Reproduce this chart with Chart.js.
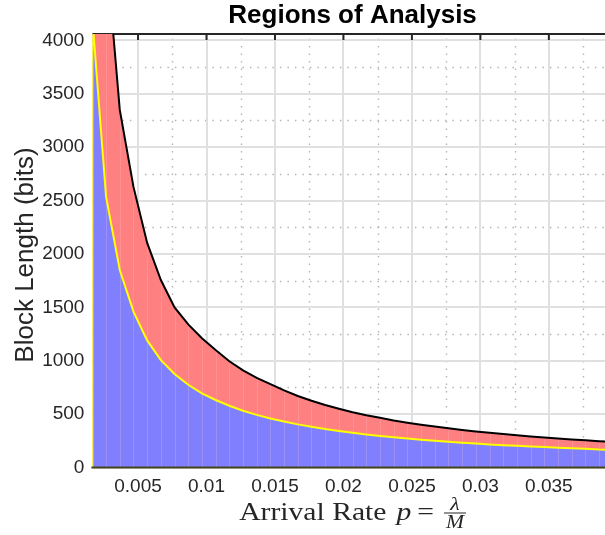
<!DOCTYPE html>
<html>
<head>
<meta charset="utf-8">
<script src="https://cdn.jsdelivr.net/npm/chart.js@4.4.1/dist/chart.umd.min.js"></script>
<style>
  html, body { margin: 0; padding: 0; background: #fff; }
  canvas { display: block; }
</style>
</head>
<body>
<canvas id="regions" width="605" height="535"></canvas>
<script>
/* ─── DATA ────────────────────────────────────────────────── */
// arrival rate p = lambda / M at each evaluated point
const arrivalRate = [
  0.0016667, 0.0026667, 0.0036667, 0.0046667, 0.0056667, 0.0066667, 0.0076667,
  0.0086667, 0.0096667, 0.0106667, 0.0116667, 0.0126667, 0.0136667, 0.0146667,
  0.0156667, 0.0166667, 0.0176667, 0.0186667, 0.0196667, 0.0206667, 0.0216667,
  0.0226667, 0.0236667, 0.0246667, 0.0256667, 0.0266667, 0.0276667, 0.0286667,
  0.0296667, 0.0306667, 0.0316667, 0.0326667, 0.0336667, 0.0346667, 0.0356667,
  0.0366667, 0.0376667, 0.0386667, 0.0396667,
];

// lower boundary (yellow) – block length in bits
const lowerBound = [
  4200, 2534, 1850, 1460, 1190, 1005, 875, 775, 695, 632, 578, 532, 493, 459,
  430, 404, 381, 360, 342, 325, 310, 296, 283, 271, 260, 250, 241, 232, 224,
  216, 209, 203, 197, 191, 185, 180, 175, 168, 164,
];

// upper boundary (black) – block length in bits
const upperBound = [
  7800, 4850, 3349, 2628, 2103, 1756, 1500, 1340, 1210, 1100, 995, 910, 840, 780,
  722, 670, 625, 585, 550, 518, 490, 465, 441, 420, 401, 383, 367, 352, 338,
  325, 313, 302, 291, 281, 272, 263, 255, 247, 240,
];

const xTicks      = [0.005, 0.01, 0.015, 0.02, 0.025, 0.03, 0.035];
const xMinorTicks = [0.0025, 0.0075, 0.0125, 0.0175, 0.0225, 0.0275, 0.0325, 0.0375];
const yTicks      = [0, 500, 1000, 1500, 2000, 2500, 3000, 3500, 4000];
const yMinorTicks = [250, 750, 1250, 1750, 2250, 2750, 3250, 3750];

const X_MAX = 0.0391;
const Y_MAX = 4060;

/* ─── STYLE ───────────────────────────────────────────────── */
const AXIS_COLOR = '#262626';
const SANS  = '"Liberation Sans", Arial, Helvetica, sans-serif';
const SERIF = '"Liberation Serif", "Times New Roman", serif';

/* ─── EXTRA DRAWING: minor grid, box, seams, labels ───────── */
const decorations = {
  id: 'decorations',

  beforeDraw(chart) {
    const { ctx, chartArea: a, scales: { x, y } } = chart;
    ctx.save();
    ctx.strokeStyle = '#b5b5b5';
    ctx.lineWidth = 1.4;
    ctx.setLineDash([1.5, 6]);
    xMinorTicks.forEach(v => {
      const px = Math.round(x.getPixelForValue(v)) + 0.5;
      ctx.beginPath(); ctx.moveTo(px, a.bottom); ctx.lineTo(px, a.top); ctx.stroke();
    });
    yMinorTicks.forEach(v => {
      const py = Math.round(y.getPixelForValue(v)) + 0.5;
      ctx.beginPath(); ctx.moveTo(a.left, py); ctx.lineTo(a.right, py); ctx.stroke();
    });
    ctx.restore();
  },

  beforeDatasetsDraw(chart) {
    // top box edge with inward tick marks (sits under the data)
    const { ctx, chartArea: a, scales: { x } } = chart;
    ctx.save();
    ctx.strokeStyle = AXIS_COLOR;
    ctx.lineWidth = 2;
    ctx.beginPath(); ctx.moveTo(a.left, a.top); ctx.lineTo(a.right, a.top); ctx.stroke();
    xTicks.forEach(v => {
      const px = x.getPixelForValue(v);
      ctx.beginPath(); ctx.moveTo(px, a.top); ctx.lineTo(px, a.top + 6); ctx.stroke();
    });
    ctx.restore();
  },

  beforeDatasetDraw(chart, args) {
    // faint seams between the filled patch segments
    const { ctx, chartArea: a, scales: { x, y } } = chart;
    const vals = args.index === 0 ? lowerBound : upperBound;
    ctx.save();
    ctx.beginPath();
    ctx.rect(a.left, a.top, a.right - a.left, a.bottom - a.top);
    ctx.clip();
    ctx.strokeStyle = 'rgba(255, 200, 210, 0.22)';
    ctx.lineWidth = 1;
    for (let i = 1; i < arrivalRate.length; i++) {
      const px = Math.round(x.getPixelForValue(arrivalRate[i])) + 0.5;
      ctx.beginPath();
      ctx.moveTo(px, y.getPixelForValue(0));
      ctx.lineTo(px, y.getPixelForValue(vals[i]));
      ctx.stroke();
    }
    ctx.restore();
  },

  afterDatasetsDraw(chart) {
    const { ctx, chartArea: a } = chart;
    ctx.save();
    ctx.strokeStyle = '#45451c';
    ctx.lineWidth = 2;
    ctx.beginPath(); ctx.moveTo(a.left - 1, a.bottom); ctx.lineTo(a.right, a.bottom); ctx.stroke();
    ctx.restore();
  },

  afterDraw(chart) {
    const { ctx, scales: { x } } = chart;
    const cx = x.getPixelForValue((arrivalRate[0] + arrivalRate[arrivalRate.length - 1]) / 2);

    ctx.save();
    // title
    ctx.fillStyle = '#000';
    ctx.font = 'bold 26px ' + SANS;
    ctx.textAlign = 'center';
    ctx.textBaseline = 'alphabetic';
    ctx.fillText('Regions of Analysis', cx, 23);

    // y-axis label
    ctx.fillStyle = AXIS_COLOR;
    ctx.save();
    ctx.translate(33, 255);
    ctx.rotate(-Math.PI / 2);
    ctx.font = '26px ' + SANS;
    ctx.fillText('Block Length (bits)', 0, 0);
    ctx.restore();

    drawXLabel(ctx, cx, 520);
    ctx.restore();
  },
};

// "Arrival Rate p = λ/M" with a stacked fraction
function drawXLabel(ctx, cx, base) {
  const sx = 1.14;
  const mainFont = '26px ' + SERIF;
  const italFont = 'italic 26px ' + SERIF;
  const fracFont = 'italic 19px ' + SERIF;

  ctx.font = mainFont;
  const wA  = ctx.measureText('Arrival Rate').width * sx;
  const wEq = ctx.measureText('=').width * sx;
  ctx.font = italFont;
  const wP  = ctx.measureText('p').width * sx;
  ctx.font = fracFont;
  const wLam = ctx.measureText('λ').width * sx;
  const wM   = ctx.measureText('M').width * sx;
  const wFr  = Math.max(wLam, wM) + 4;

  const gapA = 10, gapP = 6, gapEq = 10;
  const total = wA + gapA + wP + gapP + wEq + gapEq + wFr;
  let px = cx - total / 2;

  const put = (txt, font, x0, y0, align) => {
    ctx.save();
    ctx.font = font;
    ctx.textAlign = align || 'left';
    ctx.textBaseline = 'alphabetic';
    ctx.translate(x0, y0);
    ctx.scale(sx, 1);
    ctx.fillText(txt, 0, 0);
    ctx.restore();
  };

  ctx.fillStyle = AXIS_COLOR;
  put('Arrival Rate', mainFont, px, base);
  px += wA + gapA;
  put('p', italFont, px, base);
  px += wP + gapP;
  put('=', mainFont, px, base);
  px += wEq + gapEq;

  const fc = px + wFr / 2;
  put('λ', fracFont, fc, base - 10, 'center');
  put('M', fracFont, fc, base + 8, 'center');
  ctx.fillRect(px, base - 7.5, wFr, 1);
}

/* ─── CHART ───────────────────────────────────────────────── */
const ctx = document.getElementById('regions').getContext('2d');

const lowerPoints = [{ x: arrivalRate[0], y: 0 }]
  .concat(arrivalRate.map((p, i) => ({ x: p, y: lowerBound[i] })));
const upperPoints = arrivalRate.map((p, i) => ({ x: p, y: upperBound[i] }));

new Chart(ctx, {
  type: 'line',
  data: {
    datasets: [
      {
        data: lowerPoints,
        borderColor: '#ffff00',
        borderWidth: 2,
        backgroundColor: '#8080ff',
        fill: 'origin',
        pointRadius: 0,
        tension: 0,
      },
      {
        data: upperPoints,
        borderColor: '#000000',
        borderWidth: 2,
        backgroundColor: '#ff8080',
        fill: 'origin',
        pointRadius: 0,
        tension: 0,
      },
    ],
  },
  options: {
    responsive: false,
    animation: false,
    devicePixelRatio: 1,
    layout: { padding: { top: 34, right: 0, bottom: 0, left: 0 } },
    plugins: {
      legend: { display: false },
      tooltip: { enabled: false },
    },
    scales: {
      x: {
        type: 'linear',
        min: arrivalRate[0],
        max: X_MAX,
        afterBuildTicks: s => { s.ticks = xTicks.map(v => ({ value: v })); },
        afterFit: s => { s.height = 67.5; },
        border: { display: false },
        grid: { color: '#e0e0e0', lineWidth: 2, drawTicks: false },
        ticks: {
          padding: 8,
          color: AXIS_COLOR,
          maxRotation: 0,
          autoSkip: false,
          font: { family: SANS, size: 19 },
          callback: v => String(v),
        },
      },
      y: {
        type: 'linear',
        min: 0,
        max: Y_MAX,
        afterBuildTicks: s => { s.ticks = yTicks.map(v => ({ value: v })); },
        afterFit: s => { s.width = 92.4; },
        border: { display: false },
        grid: { color: '#e0e0e0', lineWidth: 2, drawTicks: false },
        ticks: {
          padding: 8,
          color: AXIS_COLOR,
          autoSkip: false,
          font: { family: SANS, size: 19 },
          callback: v => String(v),
        },
      },
    },
  },
  plugins: [decorations],
});
</script>
</body>
</html>
